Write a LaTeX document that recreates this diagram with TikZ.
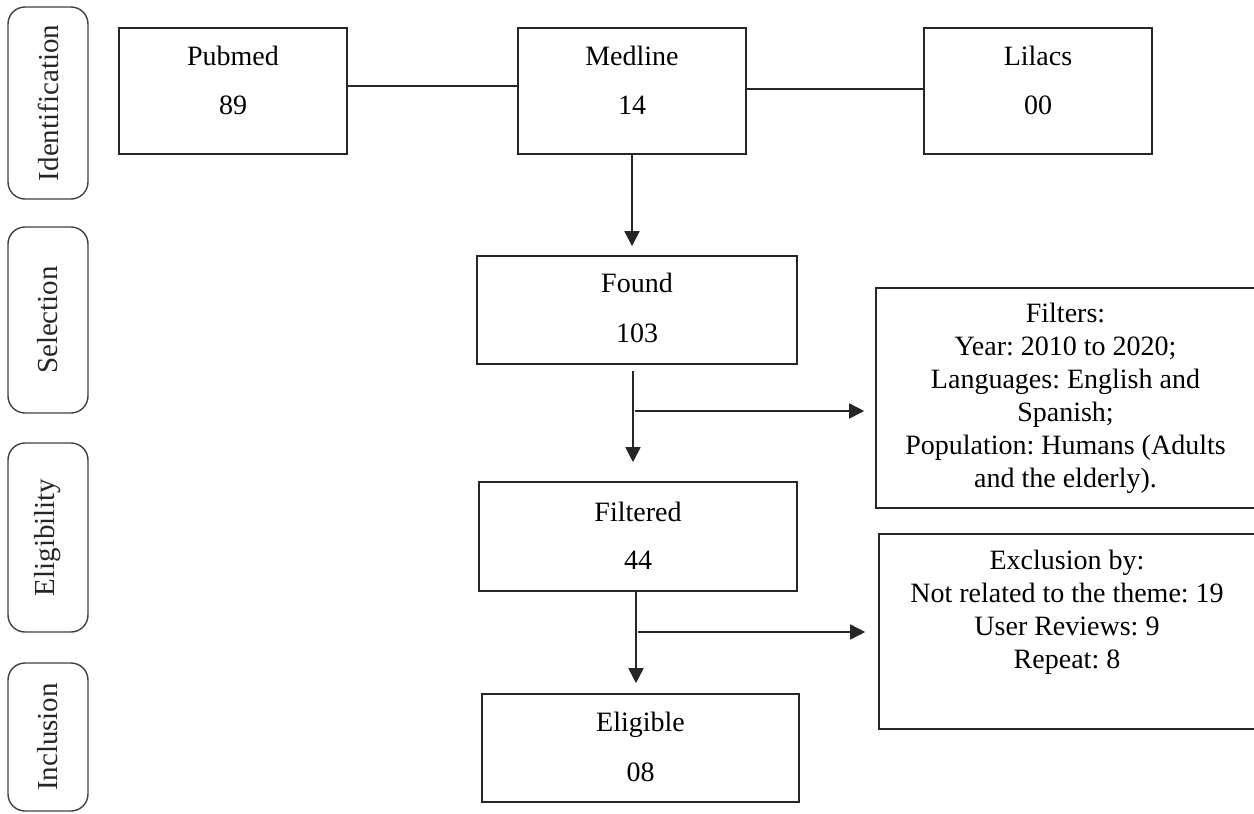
\documentclass[tikz,border=0pt]{standalone}
\usepackage{fontspec}
\setmainfont{Liberation Serif}
\usetikzlibrary{arrows.meta}
\frenchspacing
\begin{document}
\begin{tikzpicture}[x=0.5pt,y=-0.5pt,
  every node/.style={font=\fontsize{14}{16.5}\selectfont},
  box/.style={draw=black!85, line width=0.8pt, rectangle, inner sep=0pt},
  stage/.style={draw=black!75, line width=0.7pt, rounded corners=8.5pt, rotate=90, minimum height=40pt, inner sep=0pt, text=black!85, font=\fontsize{14.5}{17}\selectfont},
  lbl/.style={anchor=base, inner sep=0pt},
  conn/.style={line width=0.8pt, draw=black!85},
  arr/.style={conn, -{Triangle[length=7.5pt,width=7.5pt]}}
]
\useasboundingbox (0,0) rectangle (1254,814);

% stage labels
\node[stage, minimum width=96pt] (sid) at (48,103) {Identification};
\node[stage, minimum width=93pt] (ssel) at (48,320) {Selection};
\node[stage, minimum width=94.5pt] (selig) at (48,537.5) {Eligibility};
\node[stage, minimum width=74pt] (sinc) at (48,737) {Inclusion};

% source boxes
\node[box, minimum width=114pt, minimum height=63pt] (pubmed) at (233,91) {};
\node[lbl] (pubmedA) at (233,65) {Pubmed};
\node[lbl] (pubmedB) at (233,114) {89};

\node[box, minimum width=114pt, minimum height=63pt] (medline) at (632,91) {};
\node[lbl] (medlineA) at (632,65) {Medline};
\node[lbl] (medlineB) at (632,114) {14};

\node[box, minimum width=114pt, minimum height=63pt] (lilacs) at (1038,91) {};
\node[lbl] (lilacsA) at (1038,65) {Lilacs};
\node[lbl] (lilacsB) at (1038,114) {00};

% flow boxes
\node[box, minimum width=160pt, minimum height=54pt] (found) at (637,310) {};
\node[lbl] (foundA) at (637,292) {Found};
\node[lbl] (foundB) at (637,342) {103};

\node[box, minimum width=159pt, minimum height=54.5pt] (filtered) at (638,536.5) {};
\node[lbl] (filteredA) at (638,521) {Filtered};
\node[lbl] (filteredB) at (638,569) {44};

\node[box, minimum width=158.5pt, minimum height=54pt] (eligible) at (640.5,748) {};
\node[lbl] (eligibleA) at (640.5,731) {Eligible};
\node[lbl] (eligibleB) at (640.5,781) {08};

% side boxes
\node[box, minimum width=189.5pt, minimum height=110pt, align=center] (filters) at (1065.5,398)
  {Filters:\\Year: 2010 to 2020;\\Languages: English and\\Spanish;\\Population: Humans (Adults\\and the elderly).};

\node[box, minimum width=188pt, minimum height=97.5pt] (excl) at (1067,631.5) {};
\node[align=center, inner sep=0pt] (exclT) at (1067,612)
  {Exclusion by:\\Not related to the theme: 19\\User Reviews: 9\\Repeat: 8};

% connectors
\draw[conn] ([yshift=2.5pt]pubmed.east) -- ([yshift=2.5pt]medline.west);
\draw[conn] ([yshift=1pt]medline.east) -- ([yshift=1pt]lilacs.west);

\coordinate (mt) at (medline.south |- found.north);
\draw[arr] (medline.south) -- ([yshift=4.5pt]mt);

\coordinate (fa) at ([xshift=-2pt,yshift=-3pt]found.south);
\coordinate (ft) at (fa |- filtered.north);
\draw[arr] (fa) -- ([yshift=9.5pt]ft);
\coordinate (fb) at (635,411);
\coordinate (fe) at (filters.west |- fb);
\draw[arr] (fb) -- ([xshift=-5.5pt]fe);

\coordinate (ga) at ([xshift=-1pt]filtered.south);
\coordinate (gt) at (ga |- eligible.north);
\draw[arr] (ga) -- ([yshift=5pt]gt);
\coordinate (gb) at (638,632);
\coordinate (ge) at (excl.west |- gb);
\draw[arr] (gb) -- ([xshift=-6.5pt]ge);
\end{tikzpicture}
\end{document}
